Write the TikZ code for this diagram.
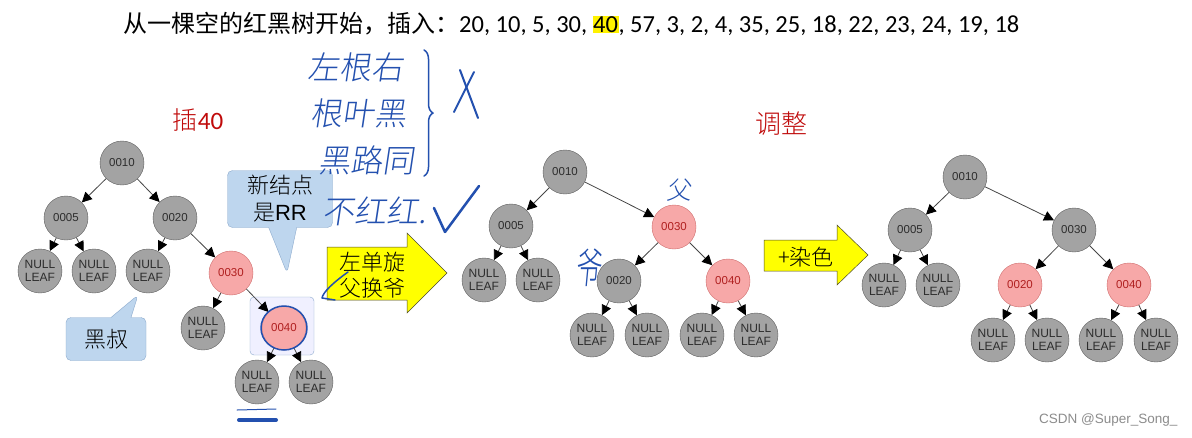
\documentclass[tikz,border=0pt]{standalone}
\usepackage{fontspec}
\setmainfont{Liberation Sans}
\newfontfamily\cjk{Noto Sans CJK SC}
\newfontfamily\cjklight{Noto Sans CJK SC Light}
\newfontfamily\hand[FakeSlant=0.15]{Noto Sans CJK SC Light}
\newfontfamily\numfont{Carlito}
\usetikzlibrary{arrows.meta,shapes.callouts,decorations.pathreplacing}
\definecolor{nodegray}{RGB}{163,163,163}
\definecolor{nodeedge}{RGB}{95,95,95}
\definecolor{nodetext}{RGB}{45,45,45}
\definecolor{pinkfill}{RGB}{247,168,168}
\definecolor{pinkedge}{RGB}{208,110,110}
\definecolor{pinktext}{RGB}{176,32,32}
\definecolor{edgegray}{RGB}{70,70,70}
\definecolor{tipblue}{RGB}{190,214,238}
\definecolor{tipedge}{RGB}{140,170,205}
\definecolor{penblue}{RGB}{35,80,175}
\definecolor{titlered}{RGB}{192,10,10}
\definecolor{arrowyellow}{RGB}{255,255,0}

\begin{document}
\begin{tikzpicture}[x=1pt,y=-1pt,
  blk/.style={circle, draw=nodeedge, fill=nodegray, minimum size=44pt, inner sep=0pt, text=nodetext, font=\fontsize{11.5}{12}\selectfont},
  rednode/.style={blk, draw=pinkedge, fill=pinkfill, text=pinktext},
  leaf/.style={blk, align=center, font=\fontsize{12}{13}\selectfont},
  arrow/.style={-{Triangle[length=10pt,width=10pt,color=black]}, draw=edgegray, line width=0.8pt},
  tip/.style={rectangle callout, draw=tipedge, fill=tipblue, rounded corners=5pt, align=center, font=\cjklight\fontsize{22}{27}\selectfont},
  pen/.style={text=penblue, font=\hand\fontsize{32}{34}\selectfont},
  stroke/.style={draw=penblue, line width=2pt, line cap=round, line join=round},
  bigarrow/.style={draw=black!60!olive, fill=arrowyellow, line width=0.5pt}
]
\fill[white] (0,0) rectangle (1192,437);
\useasboundingbox (0,0) rectangle (1192,437);

% title line
\node[anchor=west, inner sep=0pt] (title) at (123,24) {\fontsize{24}{26}\selectfont\cjk 从一棵空的红黑树开始，插入：\numfont\fontsize{24.5}{26}\selectfont 20, 10, 5, 30, {\setlength\fboxsep{0.5pt}\colorbox{yellow}{40}}, 57, 3, 2, 4, 35, 25, 18, 22, 23, 24, 19, 18};

\node[text=titlered, font=\fontsize{25}{28}\selectfont] (insert) at (198,120) {\cjklight 插\numfont 40};
\node[text=titlered, font=\cjklight\fontsize{26}{28}\selectfont] (adjust) at (781,124) {调整};

% tree before the rotation
\node[draw=tipedge, fill=blue!6, rounded corners=4pt, minimum width=64pt, minimum height=58pt] (sel) at (282,326) {};
\node[blk] (a10) at (122,163) {0010};
\node[blk] (a05) at (66,218) {0005};
\node[blk] (a20) at (175,218) {0020};
\node[leaf] (aL1) at (40,271) {NULL\\LEAF};
\node[leaf] (aL2) at (94,271) {NULL\\LEAF};
\node[leaf] (aL3) at (148,271) {NULL\\LEAF};
\node[rednode] (a30) at (231,273) {0030};
\node[leaf] (aL4) at (203,328) {NULL\\LEAF};
\node[rednode] (a40) at (284,328) {0040};
\node[leaf] (aL5) at (257,382) {NULL\\LEAF};
\node[leaf] (aL6) at (311,382) {NULL\\LEAF};

\draw[arrow] (a10) -- (a05);
\draw[arrow] (a10) -- (a20);
\draw[arrow] (a05) -- (aL1);
\draw[arrow] (a05) -- (aL2);
\draw[arrow] (a20) -- (aL3);
\draw[arrow] (a20) -- (a30);
\draw[arrow] (a30) -- (aL4);
\draw[arrow] (a30) -- (a40);
\draw[arrow] (a40) -- (aL5);
\draw[arrow] (a40) -- (aL6);

\node[tip, callout absolute pointer={(287,273)}, callout pointer width=28pt, minimum width=105pt, minimum height=57pt] (rr) at (280,199) {新结点\\是\rmfamily RR};
\node[tip, callout absolute pointer={(138,295)}, callout pointer width=20pt, minimum width=80pt, minimum height=43pt] (uncle) at (106,339) {黑叔};

% pen notes
\draw[stroke, line width=1.5pt] (a40) ellipse [x radius=23, y radius=22];
\draw[stroke, line width=1pt] (237,410) -- (276,409);
\draw[stroke, line width=4pt] (239,420) -- (276,420);
\node[pen] (rule1) at (355,67) {左根右};
\node[pen] (rule2) at (358,113) {根叶黑};
\node[pen] (rule3) at (366,160) {黑路同};
\node[pen] (rule4) at (374,211) {不红红.};
\draw[stroke, line width=1.5pt, decorate, decoration={brace, amplitude=9pt}] (424,50) -- (424,176);
\draw[stroke] (460,70) -- (478,118);
\draw[stroke] (474,72) -- (454,112);
\draw[stroke, line width=2.5pt] (434,208) -- (445,232) -- (479,186);

% rotate
\draw[bigarrow] (327,247) -- (407,247) -- (407,233) -- (447,273) -- (407,313) -- (407,300) -- (327,300) -- cycle;
\node[align=center, font=\cjklight\fontsize{22}{26}\selectfont] (rotate) at (372,275) {左单旋\\父换爷};
\draw[stroke, line width=1.5pt] (348,272) .. controls (334,282) and (323,292) .. (322,298) -- (335,300);

% tree after the rotation
\node[blk] (b10) at (565,172) {0010};
\node[blk] (b05) at (511,226) {0005};
\node[rednode] (b30) at (674,227) {0030};
\node[leaf] (bL1) at (484,280) {NULL\\LEAF};
\node[leaf] (bL2) at (538,280) {NULL\\LEAF};
\node[blk] (b20) at (619,281) {0020};
\node[rednode] (b40) at (728,281) {0040};
\node[leaf] (bL3) at (592,335) {NULL\\LEAF};
\node[leaf] (bL4) at (647,335) {NULL\\LEAF};
\node[leaf] (bL5) at (702,335) {NULL\\LEAF};
\node[leaf] (bL6) at (756,335) {NULL\\LEAF};

\draw[arrow] (b10) -- (b05);
\draw[arrow] (b10) -- (b30);
\draw[arrow] (b05) -- (bL1);
\draw[arrow] (b05) -- (bL2);
\draw[arrow] (b30) -- (b20);
\draw[arrow] (b30) -- (b40);
\draw[arrow] (b20) -- (bL3);
\draw[arrow] (b20) -- (bL4);
\draw[arrow] (b40) -- (bL5);
\draw[arrow] (b40) -- (bL6);

\node[pen, font=\hand\fontsize{25}{26}\selectfont] (parent) at (679,190) {父};
\node[pen, font=\hand\fontsize{26}{28}\selectfont, yscale=1.6, inner sep=0pt] (grand) at (588,268) {爷};

% recolour
\draw[bigarrow] (764,240) -- (837,240) -- (837,225) -- (868,255) -- (837,285) -- (837,271) -- (764,271) -- cycle;
\node[font=\cjklight\fontsize{22}{24}\selectfont] (recolor) at (806,257) {+染色};

% tree after recolouring
\node[blk] (c10) at (965,177) {0010};
\node[blk] (c05) at (910,230) {0005};
\node[blk] (c30) at (1074,230) {0030};
\node[leaf] (cL1) at (884,285) {NULL\\LEAF};
\node[leaf] (cL2) at (938,285) {NULL\\LEAF};
\node[rednode] (c20) at (1020,285) {0020};
\node[rednode] (c40) at (1129,285) {0040};
\node[leaf] (cL3) at (993,340) {NULL\\LEAF};
\node[leaf] (cL4) at (1047,340) {NULL\\LEAF};
\node[leaf] (cL5) at (1101,340) {NULL\\LEAF};
\node[leaf] (cL6) at (1156,340) {NULL\\LEAF};

\draw[arrow] (c10) -- (c05);
\draw[arrow] (c10) -- (c30);
\draw[arrow] (c05) -- (cL1);
\draw[arrow] (c05) -- (cL2);
\draw[arrow] (c30) -- (c20);
\draw[arrow] (c30) -- (c40);
\draw[arrow] (c20) -- (cL3);
\draw[arrow] (c20) -- (cL4);
\draw[arrow] (c40) -- (cL5);
\draw[arrow] (c40) -- (cL6);

\node[anchor=east, text=black!45, font=\fontsize{13.5}{15}\selectfont] (mark) at (1181,420) {CSDN @Super\_Song\_};
\end{tikzpicture}
\end{document}
